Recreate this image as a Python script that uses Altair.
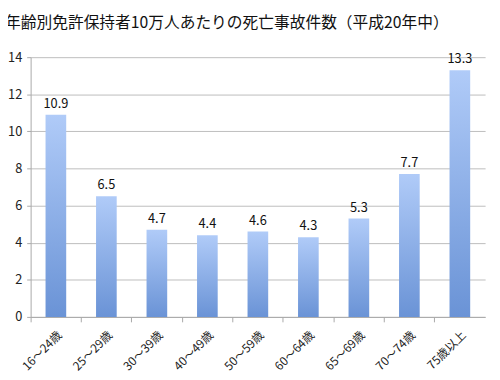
import altair as alt
import pandas as pd

categories = ["16～24歳", "25～29歳", "30～39歳", "40～49歳", "50～59歳",
              "60～64歳", "65～69歳", "70～74歳", "75歳以上"]
values = [10.9, 6.5, 4.7, 4.4, 4.6, 4.3, 5.3, 7.7, 13.3]
y_ticks = [0, 2, 4, 6, 8, 10, 12, 14]
title_text = "年齢別免許保持者10万人あたりの死亡事故件数（平成20年中）"

df = pd.DataFrame({"cat": categories, "val": values})
FONT = "Noto Sans CJK JP"

x_enc = alt.X("cat:N", sort=categories, title=None,
              scale=alt.Scale(paddingInner=0, paddingOuter=0),
              axis=alt.Axis(labelAngle=-45, bandPosition=0, labelOffset=4,
                            labelAlign="right", labelBaseline="middle",
                            labelFont=FONT, labelFontSize=12, labelColor="#222",
                            labelPadding=11,
                            domainColor="#a8a8a8", tickColor="#a8a8a8",
                            tickSize=5, grid=False))
y_enc = alt.Y("val:Q", title=None,
              scale=alt.Scale(domain=[0, 14], nice=False),
              axis=alt.Axis(values=y_ticks, labelOverlap=False, labelFont=FONT,
                            labelFontSize=13, labelColor="#222", labelPadding=5,
                            domainColor="#a8a8a8", tickColor="#a8a8a8",
                            tickSize=4, gridColor="#bdbdbd"))

bars = alt.Chart(df).mark_bar(
    size=21,
    color=alt.Gradient(gradient="linear", x1=0, y1=0, x2=0, y2=1,
                       stops=[alt.GradientStop(color="#b0cbf8", offset=0),
                              alt.GradientStop(color="#6a93d6", offset=1)])
).encode(x=x_enc, y=y_enc)

labels = alt.Chart(df).mark_text(
    font=FONT, fontSize=13, color="#111", baseline="alphabetic", dy=-7
).encode(x=x_enc, y=y_enc, text=alt.Text("val:Q", format=".1f"))

chart = alt.layer(bars, labels).properties(
    width=462, height=264,
    title=alt.TitleParams(title_text, anchor="start", frame="group", font=FONT,
                          fontSize=16, fontWeight="normal", color="#111",
                          dx=-26, offset=21),
    autosize=alt.AutoSizeParams(type="none"),
    padding={"left": 23, "top": 47, "right": 7, "bottom": 53}
).configure_view(stroke=None)

chart.save("out.html", embed_options={"renderer": "svg", "actions": False})
